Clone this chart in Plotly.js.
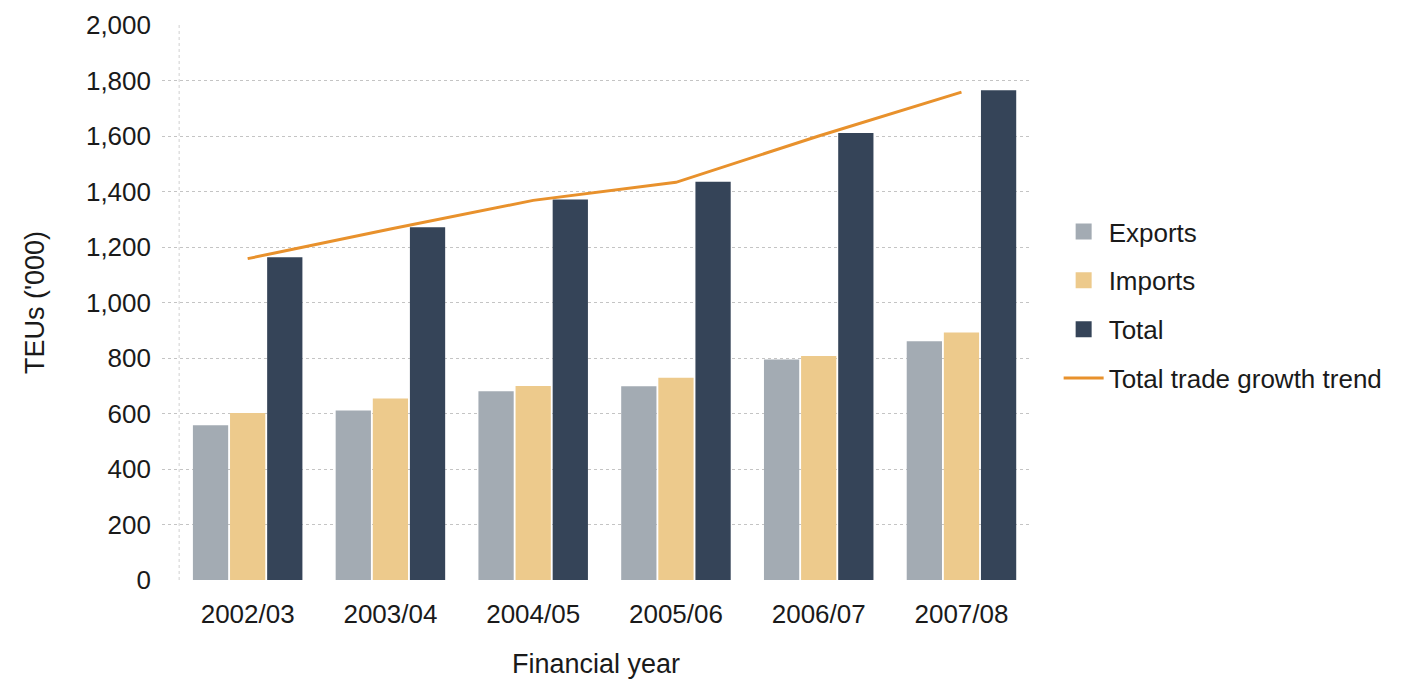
<!DOCTYPE html>
<html>
<head>
<meta charset="utf-8">
<script src="https://cdn.plot.ly/plotly-3.0.1.min.js"></script>
<style>html,body{margin:0;padding:0;background:#fff;}#chart{width:1423px;height:684px;}</style>
</head>
<body>
<div id="chart"></div>
<script>
const years = ["2002/03", "2003/04", "2004/05", "2005/06", "2006/07", "2007/08"];
const exportsTEU = [558, 611, 680, 698, 795, 860];
const importsTEU = [602, 654, 699, 729, 807, 892];
const totalTEU = [1163, 1271, 1371, 1435, 1611, 1765];
const trendTEU = [1158, 1265, 1368, 1433, 1600, 1758];
const yTicks = [0, 200, 400, 600, 800, 1000, 1200, 1400, 1600, 1800, 2000];
const yTickText = ["0", "200", "400", "600", "800", "1,000", "1,200", "1,400", "1,600", "1,800", "2,000"];

const colExports = "#a3abb3";
const colImports = "#edca8c";
const colTotal = "#354458";
const colTrend = "#e8912c";
const fontFam = "'Liberation Sans', Arial, sans-serif";

const traces = [
  {type: "bar", x: years, y: exportsTEU, name: "Exports", marker: {color: colExports}, showlegend: false, hoverinfo: "y"},
  {type: "bar", x: years, y: importsTEU, name: "Imports", marker: {color: colImports}, showlegend: false, hoverinfo: "y"},
  {type: "bar", x: years, y: totalTEU, name: "Total", marker: {color: colTotal}, showlegend: false, hoverinfo: "y"},
  {type: "scatter", mode: "lines", x: years, y: trendTEU, name: "Total trade growth trend", line: {color: colTrend, width: 3}, showlegend: false},
  {type: "scatter", mode: "markers", x: [null], y: [null], name: "Exports", marker: {symbol: "square", size: 20, color: colExports}, legendgroup: "a"},
  {type: "scatter", mode: "markers", x: [null], y: [null], name: "Imports", marker: {symbol: "square", size: 20, color: colImports}, legendgroup: "b"},
  {type: "scatter", mode: "markers", x: [null], y: [null], name: "Total", marker: {symbol: "square", size: 20, color: colTotal}, legendgroup: "c"},
  {type: "scatter", mode: "lines", x: [null], y: [null], name: "Total trade growth trend", line: {color: colTrend, width: 3}, legendgroup: "d"}
];

const layout = {
  width: 1423, height: 684,
  margin: {l: 162, r: 393, t: 25, b: 104},
  paper_bgcolor: "#fff", plot_bgcolor: "#fff",
  font: {family: fontFam, size: 26, color: "#1a1a1a"},
  barmode: "group", bargap: 0.22, bargroupgap: 0.05,
  xaxis: {
    type: "category", range: [-0.6, 5.48],
    showgrid: false, zeroline: false, showline: false,
    ticks: "", ticklabelstandoff: 16,
    tickfont: {size: 26},
    title: {text: "Financial year", font: {size: 27}, standoff: 26},
    fixedrange: true
  },
  yaxis: {
    range: [0, 2000], tickvals: yTicks, ticktext: yTickText,
    showgrid: true, gridcolor: "#c4c4c4", griddash: "dot", gridwidth: 1,
    zeroline: false, showline: false, ticks: "", ticklabelstandoff: 10,
    tickfont: {size: 26},
    title: {text: "TEUs ('000)", font: {size: 27}, standoff: 33},
    fixedrange: true
  },
  shapes: [
    {type: "line", xref: "x", yref: "y", x0: -0.48, x1: -0.48, y0: 0, y1: 2000,
     line: {color: "#d0d0d0", width: 1, dash: "dot"}, layer: "below"}
  ],
  legend: {
    x: 1.033, y: 0.67, xanchor: "left", yanchor: "top",
    font: {size: 26}, tracegroupgap: 12, traceorder: "grouped",
    bgcolor: "rgba(0,0,0,0)", itemwidth: 40
  },
  showlegend: true
};

Plotly.newPlot("chart", traces, layout, {displayModeBar: false, staticPlot: true});
</script>
</body>
</html>
